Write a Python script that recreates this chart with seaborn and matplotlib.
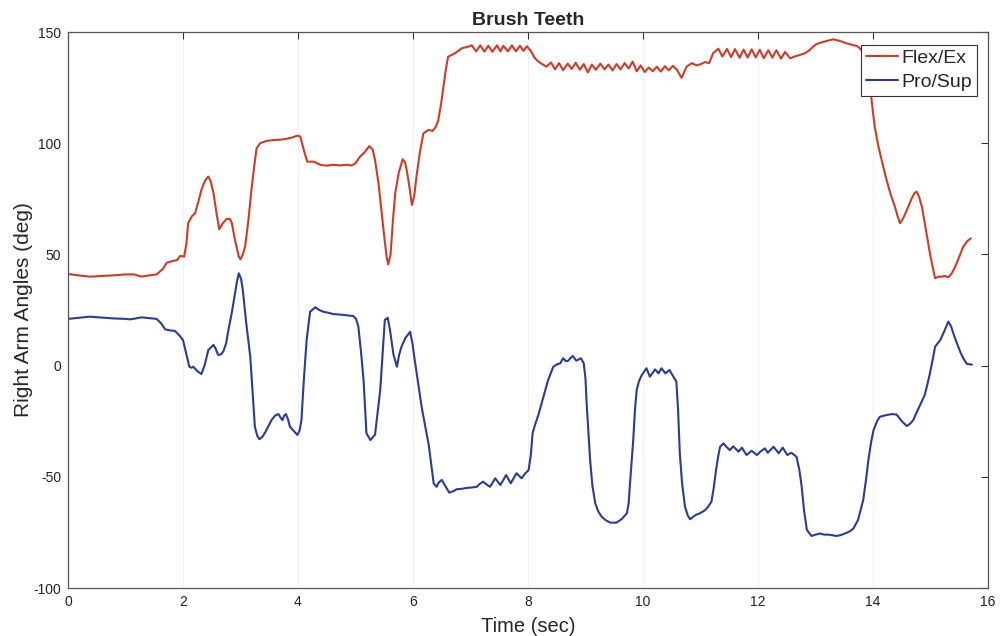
import matplotlib
matplotlib.use("Agg")
import matplotlib.pyplot as plt
import seaborn as sns
import pandas as pd

# ---- data ----
flex_t = [0.00, 0.20, 0.38, 0.60, 0.80, 1.00, 1.15, 1.28, 1.40, 1.54, 1.65, 1.72, 1.82, 1.90, 1.95,
          2.02, 2.06, 2.09, 2.15, 2.21, 2.27, 2.32, 2.38, 2.44, 2.48, 2.53, 2.58, 2.63, 2.69, 2.76,
          2.82, 2.85, 2.90, 2.93, 2.97, 3.00, 3.04, 3.08, 3.14, 3.19, 3.24, 3.28, 3.34, 3.45, 3.57,
          3.70, 3.80, 3.90, 3.99, 4.04, 4.10, 4.16, 4.27, 4.40, 4.50, 4.62, 4.73, 4.85, 4.93, 5.00,
          5.08, 5.16, 5.24, 5.30, 5.34, 5.40, 5.45, 5.50, 5.54, 5.57, 5.61, 5.65, 5.69, 5.75, 5.82,
          5.86, 5.89, 5.94, 5.98, 6.02, 6.06, 6.12, 6.18, 6.27, 6.34, 6.40, 6.44, 6.49, 6.53, 6.57,
          6.61, 6.73, 6.85, 6.96, 7.02, 7.10, 7.17, 7.24, 7.31, 7.38, 7.46, 7.52, 7.57, 7.65, 7.72,
          7.79, 7.86, 7.92, 7.98, 8.05, 8.10, 8.15, 8.22, 8.32, 8.40, 8.47, 8.54, 8.61, 8.69, 8.76,
          8.83, 8.90, 8.97, 9.04, 9.11, 9.18, 9.26, 9.33, 9.40, 9.47, 9.54, 9.61, 9.68, 9.75, 9.82,
          9.89, 9.96, 10.03, 10.10, 10.17, 10.24, 10.31, 10.38, 10.45, 10.52, 10.59, 10.67, 10.76,
          10.85, 10.93, 11.00, 11.08, 11.15, 11.22, 11.31, 11.38, 11.46, 11.53, 11.60, 11.68, 11.75,
          11.82, 11.89, 11.96, 12.03, 12.10, 12.18, 12.25, 12.32, 12.40, 12.47, 12.56, 12.64, 12.73,
          12.82, 12.90, 12.96, 13.02, 13.10, 13.20, 13.31, 13.42, 13.54, 13.64, 13.72, 13.78, 13.83,
          13.89, 13.95, 13.99, 14.03, 14.09, 14.15, 14.22, 14.30, 14.38, 14.43, 14.47, 14.53, 14.59,
          14.67, 14.72, 14.76, 14.80, 14.85, 14.92, 14.99, 15.04, 15.08, 15.14, 15.20, 15.25, 15.31,
          15.37, 15.43, 15.50, 15.57, 15.64, 15.70]
flex_v = [41.2, 40.5, 40.0, 40.3, 40.6, 41.0, 41.0, 40.0, 40.5, 41.0, 43.5, 46.3, 47.0, 47.5, 49.3,
          49.0, 55.0, 64.0, 67.0, 68.5, 74.0, 79.0, 83.0, 85.0, 83.0, 77.5, 69.0, 61.3, 64.0, 66.0,
          65.8, 64.0, 57.0, 53.5, 49.0, 47.8, 50.0, 53.5, 66.0, 79.0, 90.0, 97.7, 100.0, 101.0, 101.4,
          101.6, 102.0, 102.6, 103.4, 103.0, 97.0, 91.7, 91.7, 90.2, 89.9, 90.3, 90.0, 90.3, 90.0, 91.0,
          94.0, 96.0, 98.7, 97.0, 92.4, 82.0, 70.0, 58.0, 49.0, 45.5, 50.0, 65.0, 77.5, 86.5, 92.8,
          91.5, 88.0, 80.0, 72.2, 76.0, 85.0, 96.0, 104.4, 106.0, 105.5, 107.5, 110.4, 118.0, 125.4, 133.0,
          138.9, 140.4, 142.7, 143.4, 144.0, 141.3, 144.0, 141.2, 143.8, 141.1, 144.0, 141.3, 143.8, 141.3, 144.0,
          141.3, 143.8, 141.5, 143.6, 141.5, 139.0, 137.4, 136.0, 134.4, 136.3, 133.2, 136.0, 132.8, 135.8, 133.4,
          136.2, 133.0, 135.6, 131.8, 135.3, 133.0, 135.8, 133.2, 135.4, 132.7, 135.6, 133.2, 136.0, 133.6, 136.7,
          132.3, 135.0, 132.0, 134.0, 132.4, 134.4, 132.2, 134.6, 132.8, 134.8, 133.0, 129.4, 134.5,
          136.0, 135.0, 135.5, 136.5, 136.0, 140.5, 142.5, 139.0, 142.4, 138.7, 142.3, 138.4, 142.1,
          138.5, 142.2, 138.6, 142.0, 138.2, 141.8, 138.5, 141.8, 138.0, 141.0, 138.2, 139.0, 139.7,
          140.5, 141.9, 143.5, 144.6, 145.3, 146.0, 146.7, 146.0, 144.9, 144.2, 143.7, 142.5, 140.4,
          133.0, 125.4, 116.0, 107.4, 99.0, 92.4, 85.0, 77.5, 71.5, 67.0, 64.0, 66.5, 70.0,
          75.0, 77.5, 78.2, 76.0, 71.5, 61.0, 50.5, 44.0, 39.3, 40.0, 40.0, 40.3, 39.7,
          41.5, 44.5, 49.0, 53.5, 56.0, 57.2]

pro_t = [0.00, 0.20, 0.38, 0.60, 0.80, 1.00, 1.08, 1.18, 1.28, 1.40, 1.54, 1.62, 1.69, 1.78, 1.86,
         1.94, 2.00, 2.05, 2.11, 2.15, 2.18, 2.25, 2.32, 2.38, 2.44, 2.53, 2.57, 2.61, 2.66, 2.70,
         2.75, 2.79, 2.85, 2.90, 2.94, 2.97, 3.01, 3.04, 3.10, 3.17, 3.21, 3.25, 3.29, 3.33, 3.38,
         3.43, 3.49, 3.54, 3.60, 3.66, 3.70, 3.73, 3.76, 3.79, 3.83, 3.86, 3.93, 3.99, 4.03, 4.06,
         4.10, 4.15, 4.21, 4.30, 4.37, 4.44, 4.52, 4.61, 4.70, 4.79, 4.88, 4.96, 5.01, 5.05, 5.10,
         5.14, 5.19, 5.26, 5.34, 5.38, 5.43, 5.47, 5.51, 5.56, 5.60, 5.66, 5.72, 5.76, 5.80, 5.87,
         5.95, 5.99, 6.03, 6.09, 6.15, 6.21, 6.27, 6.32, 6.36, 6.41, 6.45, 6.50, 6.56, 6.63, 6.70,
         6.76, 6.85, 6.93, 7.02, 7.11, 7.16, 7.22, 7.28, 7.34, 7.43, 7.52, 7.62, 7.70, 7.80, 7.89,
         7.95, 8.01, 8.05, 8.08, 8.13, 8.18, 8.27, 8.35, 8.44, 8.50, 8.56, 8.61, 8.66, 8.70, 8.74,
         8.78, 8.84, 8.92, 8.97, 9.00, 9.02, 9.08, 9.12, 9.17, 9.22, 9.28, 9.35, 9.43, 9.54, 9.63,
         9.72, 9.75, 9.77, 9.80, 9.83, 9.86, 9.89, 9.93, 9.98, 10.06, 10.12, 10.21, 10.27, 10.32, 10.39,
         10.46, 10.53, 10.58, 10.61, 10.64, 10.68, 10.73, 10.78, 10.82, 10.87, 10.93, 10.99, 11.08, 11.13,
         11.19, 11.23, 11.27, 11.31, 11.34, 11.40, 11.45, 11.51, 11.57, 11.66, 11.72, 11.80, 11.89, 11.98,
         12.05, 12.12, 12.17, 12.27, 12.36, 12.43, 12.51, 12.58, 12.67, 12.72, 12.76, 12.80, 12.85, 12.93,
         13.00, 13.08, 13.15, 13.22, 13.30, 13.37, 13.44, 13.51, 13.60, 13.66, 13.74, 13.83, 13.88, 13.92,
         13.97, 14.01, 14.07, 14.12, 14.24, 14.33, 14.41, 14.50, 14.59, 14.65, 14.70, 14.76, 14.82, 14.90,
         14.95, 14.99, 15.04, 15.08, 15.17, 15.24, 15.31, 15.36, 15.41, 15.46, 15.52, 15.57, 15.63, 15.72]
pro_v = [21.0, 21.5, 22.0, 21.6, 21.2, 21.0, 20.8, 21.2, 21.7, 21.4, 21.0, 19.0, 16.3, 15.8, 15.6,
         13.5, 11.5, 6.0, -0.5, -1.0, -0.5, -2.5, -3.8, 0.5, 7.0, 9.3, 7.5, 4.8, 5.0, 6.3,
         10.0, 16.0, 24.0, 31.7, 38.0, 41.5, 39.0, 34.0, 19.0, 4.0, -12.0, -27.5, -31.5, -33.1, -32.0,
         -30.0, -27.0, -24.5, -22.5, -21.8, -23.5, -24.5, -22.5, -21.8, -24.5, -27.5, -29.5, -31.2, -29.0, -24.5,
         -7.0, 11.5, 24.2, 26.2, 25.0, 24.2, 23.8, 23.2, 23.0, 22.8, 22.5, 22.3, 21.0, 17.5, 5.0,
         -6.5, -30.4, -33.5, -31.0, -22.0, -11.0, 5.0, 20.5, 21.5, 16.0, 5.0, -0.5, 5.0, 8.5, 12.5,
         15.2, 10.0, 2.5, -8.0, -18.5, -27.0, -35.0, -45.0, -53.0, -54.5, -52.5, -51.4, -54.0, -57.1, -56.5,
         -55.6, -55.4, -55.0, -54.8, -54.5, -53.2, -52.2, -53.5, -54.5, -50.7, -53.7, -49.2, -52.9, -48.4, -50.7,
         -48.5, -47.0, -40.0, -30.4, -26.0, -22.2, -13.9, -6.5, -0.5, 0.5, 1.0, 3.3, 2.0, 2.2, 3.5,
         4.3, 2.2, 3.3, 1.0, -6.0, -17.0, -42.4, -54.0, -61.9, -65.5, -67.9, -69.5, -70.6, -70.6, -69.0,
         -66.4, -62.0, -54.5, -44.0, -33.5, -20.0, -11.0, -7.0, -4.2, -1.2, -5.0, -1.7, -3.5, -1.2, -3.5,
         -2.0, -5.0, -7.2, -20.0, -39.4, -53.0, -63.4, -67.5, -69.1, -68.0, -67.0, -66.4, -65.0, -63.5,
         -61.2, -55.0, -47.0, -40.5, -36.5, -35.0, -36.5, -38.0, -36.3, -38.7, -36.9, -40.2, -38.3, -40.2,
         -38.5, -37.2, -39.2, -36.5, -39.4, -36.9, -40.2, -39.2, -41.0, -47.0, -54.5, -65.0, -73.9, -76.6,
         -76.0, -75.5, -76.0, -76.0, -76.3, -76.6, -76.2, -75.5, -74.5, -73.2, -69.4, -60.4, -51.0, -42.4,
         -34.0, -29.0, -25.0, -23.0, -22.2, -21.8, -22.0, -25.0, -27.2, -26.0, -24.5, -21.0, -17.7, -13.2,
         -8.0, -3.5, 3.0, 8.5, 11.5, 15.5, 19.8, 17.5, 13.5, 10.0, 6.0, 3.3, 0.8, 0.4]

series_names = ["Flex/Ex", "Pro/Sup"]
x_ticks = [0, 2, 4, 6, 8, 10, 12, 14, 16]
y_ticks = [-100, -50, 0, 50, 100, 150]
title = "Brush Teeth"
x_label = "Time (sec)"
y_label = "Right Arm Angles (deg)"

df = pd.concat([
    pd.DataFrame({"t": flex_t, "v": flex_v, "s": series_names[0]}),
    pd.DataFrame({"t": pro_t, "v": pro_v, "s": series_names[1]}),
], ignore_index=True)

sns.set_style("white")
plt.rcParams["font.family"] = ["Liberation Sans", "DejaVu Sans"]
plt.rcParams["axes.unicode_minus"] = False

fig = plt.figure(figsize=(10.01, 6.36), dpi=100)
ax = fig.add_axes([68 / 1001, 1 - 588 / 636, 920 / 1001, 556 / 636])

palette = {"Flex/Ex": "#d23a24", "Pro/Sup": "#2a3a9e"}
sns.lineplot(data=df, x="t", y="v", hue="s", palette=palette, sort=False,
             estimator=None, linewidth=1.5, ax=ax)
for ln in ax.get_lines():
    ln.set_solid_joinstyle("round")

ax.set_xlim(0, 16)
ax.set_ylim(-100, 150)
ax.set_xticks(x_ticks)
ax.set_yticks(y_ticks)
ax.grid(True, axis="x", color="#f2f2f2", linewidth=0.8)
ax.tick_params(direction="in", length=5, width=0.8, top=True, right=True,
               labelsize=10, colors="#333333", labelcolor="#222222", pad=5)
for sp in ax.spines.values():
    sp.set_color("#555555")
    sp.set_linewidth(0.9)

ax.set_title(title, fontsize=14, fontweight="bold", pad=5)
ax.set_xlabel(x_label, fontsize=14.5, labelpad=6)
ax.set_ylabel(y_label, fontsize=15, labelpad=0)

leg = ax.legend(loc="upper right", bbox_to_anchor=(0.988, 0.977), borderaxespad=0,
                fontsize=14, frameon=True, fancybox=False, framealpha=1,
                edgecolor="#333333", handlelength=1.65, borderpad=0.25,
                labelspacing=0.33, handletextpad=0.2, title=None)
leg.get_frame().set_linewidth(0.8)

fig.savefig("out.png", dpi=100)
